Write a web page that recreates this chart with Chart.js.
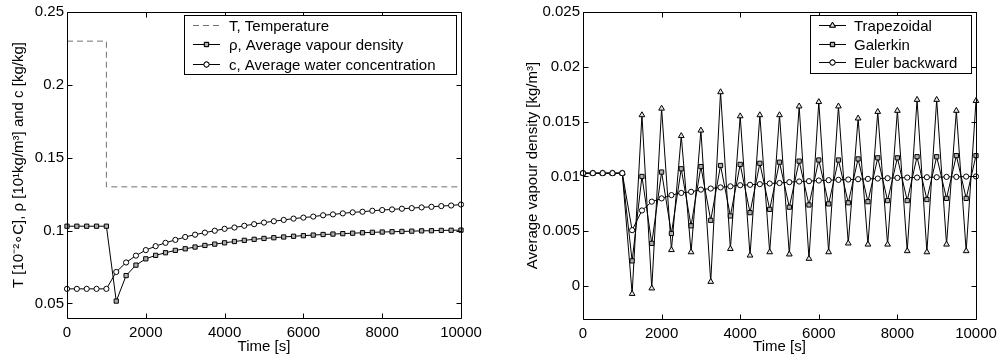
<!DOCTYPE html>
<html>
<head>
<meta charset="utf-8">
<script src="https://cdn.jsdelivr.net/npm/chart.js@4.4.1/dist/chart.umd.min.js"></script>
<style>
  html, body { margin: 0; padding: 0; background: #fff; }
  body { width: 1006px; height: 360px; position: relative; overflow: hidden; }
  .panel { position: absolute; top: 0; }
  #left-panel { left: 0; }
  #right-panel { left: 500px; }
</style>
</head>
<body>
<div class="panel" id="left-panel"><canvas id="left-chart" width="490" height="360"></canvas></div>
<div class="panel" id="right-panel"><canvas id="right-chart" width="506" height="360"></canvas></div>
<script>
// Sample times shared by every series [s]
const times = [0, 250, 500, 750, 1000, 1250, 1500, 1750, 2000, 2250, 2500, 2750, 3000, 3250,
  3500, 3750, 4000, 4250, 4500, 4750, 5000, 5250, 5500, 5750, 6000, 6250, 6500, 6750, 7000,
  7250, 7500, 7750, 8000, 8250, 8500, 8750, 9000, 9250, 9500, 9750, 10000];

// Left panel
const tempTimes = [0, 1000, 1000, 10000];
const tempValues = [0.23, 0.23, 0.13, 0.13];
const rhoAvg = [0.103, 0.103, 0.103, 0.103, 0.103, 0.0516, 0.0691, 0.0763, 0.0806, 0.0830,
  0.0848, 0.0864, 0.0875, 0.0887, 0.0898, 0.0907, 0.0916, 0.0925, 0.0933, 0.0940, 0.0946,
  0.0951, 0.0956, 0.0961, 0.0965, 0.0969, 0.0973, 0.0976, 0.0979, 0.0982, 0.0985, 0.0988,
  0.0990, 0.0992, 0.0994, 0.0996, 0.0998, 0.0999, 0.1001, 0.1002, 0.1003];
const cAvg = [0.06, 0.06, 0.06, 0.06, 0.06, 0.0716, 0.0781, 0.0828, 0.0866, 0.0893, 0.0916,
  0.0936, 0.0956, 0.0972, 0.0986, 0.0999, 0.1012, 0.1021, 0.1033, 0.1044, 0.1055, 0.1064,
  0.1073, 0.1082, 0.1089, 0.1096, 0.1105, 0.1111, 0.1118, 0.1125, 0.1129, 0.1136, 0.1141,
  0.1145, 0.1150, 0.1154, 0.1159, 0.1163, 0.1168, 0.1172, 0.1179];
const leftLabels = ['T, Temperature', 'ρ, Average vapour density', 'c, Average water concentration'];
const leftYTicks = [0.05, 0.1, 0.15, 0.2, 0.25];

// Right panel
const trapezoidal = [0.0103, 0.0103, 0.0103, 0.0103, 0.0103, -0.0007, 0.0156, -0.0002, 0.0162,
  0.0033, 0.0137, 0.0031, 0.0142, 0.0004, 0.0177, 0.0034, 0.0155, 0.0028, 0.0156, 0.0031,
  0.0156, 0.0029, 0.0164, 0.0025, 0.0168, 0.0031, 0.0164, 0.0039, 0.0153, 0.0038, 0.0159,
  0.0038, 0.0160, 0.0032, 0.0170, 0.0031, 0.0170, 0.0038, 0.0160, 0.0032, 0.0169];
const galerkin = [0.0103, 0.0103, 0.0103, 0.0103, 0.0103, 0.0023, 0.0100, 0.0039, 0.0104,
  0.0048, 0.0107, 0.0055, 0.0109, 0.0060, 0.0110, 0.0064, 0.0111, 0.0067, 0.0112, 0.0070,
  0.0113, 0.0072, 0.0114, 0.0074, 0.0115, 0.0075, 0.0115, 0.0076, 0.0116, 0.0077, 0.0117,
  0.0078, 0.0117, 0.0078, 0.0118, 0.0079, 0.0118, 0.0080, 0.0119, 0.0080, 0.0119];
const eulerBackward = [0.0103, 0.0103, 0.0103, 0.0103, 0.0103, 0.0051, 0.0069, 0.0077, 0.0080,
  0.0083, 0.0085, 0.0086, 0.0088, 0.0089, 0.0090, 0.0091, 0.0092, 0.00924, 0.0093, 0.00936,
  0.0094, 0.00948, 0.00954, 0.00957, 0.00963, 0.00966, 0.00969, 0.00972, 0.00975, 0.00978,
  0.00981, 0.00984, 0.00987, 0.0099, 0.0099, 0.00993, 0.00993, 0.00996, 0.00996, 0.00999, 0.0100];
const rightLabels = ['Trapezoidal', 'Galerkin', 'Euler backward'];
const rightYTicks = [0, 0.005, 0.01, 0.015, 0.02, 0.025];

const xTicks = [0, 2000, 4000, 6000, 8000, 10000];

const FONT = 'Arial, "Liberation Sans", Helvetica, sans-serif';

function toPoints(xs, ys) {
  return xs.map((x, i) => ({ x: x, y: ys[i] }));
}

function fmt(v) {
  return String(+Number(v).toFixed(4));
}

// MATLAB style box with inward ticks on all four sides
const frameTicks = {
  id: 'frameTicks',
  afterDatasetsDraw(chart) {
    const { ctx, chartArea: a, scales: { x, y } } = chart;
    const len = 5;
    const L = Math.round(a.left) + 0.5, R = Math.round(a.right) + 0.5;
    const T = Math.round(a.top) + 0.5, B = Math.round(a.bottom) + 0.5;
    ctx.save();
    ctx.strokeStyle = '#000';
    ctx.lineWidth = 1;
    ctx.beginPath();
    x.ticks.forEach(t => {
      const px = Math.round(x.getPixelForValue(t.value)) + 0.5;
      ctx.moveTo(px, B); ctx.lineTo(px, B - len);
      ctx.moveTo(px, T); ctx.lineTo(px, T + len);
    });
    y.ticks.forEach(t => {
      const py = Math.round(y.getPixelForValue(t.value)) + 0.5;
      ctx.moveTo(L, py); ctx.lineTo(L + len, py);
      ctx.moveTo(R, py); ctx.lineTo(R - len, py);
    });
    ctx.rect(L, T, R - L, B - T);
    ctx.stroke();
    ctx.restore();
  }
};

// Legend box drawn inside the axes
const boxLegend = {
  id: 'boxLegend',
  afterDraw(chart, args, opts) {
    const { ctx } = chart;
    ctx.save();
    ctx.fillStyle = '#fff';
    ctx.fillRect(opts.x, opts.y, opts.w, opts.h);
    ctx.strokeStyle = '#000';
    ctx.lineWidth = 1;
    ctx.strokeRect(opts.x + 0.5, opts.y + 0.5, opts.w, opts.h);
    ctx.font = '15px ' + FONT;
    ctx.textBaseline = 'middle';
    chart.data.datasets.forEach((ds, i) => {
      const cy = Math.round(opts.y + opts.first + i * opts.step) + 0.5;
      const x0 = opts.x + opts.lineStart, x1 = x0 + opts.lineLen;
      ctx.strokeStyle = ds.borderColor;
      ctx.setLineDash(ds.borderDash || []);
      ctx.beginPath();
      ctx.moveTo(x0, cy);
      ctx.lineTo(x1, cy);
      ctx.stroke();
      ctx.setLineDash([]);
      if (ds.pointRadius > 0) {
        ctx.fillStyle = ds.pointBackgroundColor;
        ctx.strokeStyle = '#000';
        Chart.helpers.drawPoint(ctx, {
          pointStyle: ds.pointStyle, radius: ds.pointRadius, borderWidth: 1, rotation: 0
        }, (x0 + x1) / 2, cy);
        ctx.fill();
        ctx.stroke();
      }
      ctx.fillStyle = '#000';
      ctx.fillText(ds.label, opts.x + opts.textStart, cy + 1);
    });
    ctx.restore();
  }
};

function lineSet(label, xs, ys, style, fill, radius, extra) {
  return Object.assign({
    label: label,
    data: toPoints(xs, ys),
    showLine: true,
    borderColor: '#000',
    borderWidth: 1,
    pointStyle: style,
    pointRadius: radius,
    pointBackgroundColor: fill,
    pointBorderColor: '#000',
    pointBorderWidth: 1,
    tension: 0,
    clip: false
  }, extra || {});
}

function chartConfig(datasets, cfg) {
  return {
    type: 'scatter',
    data: { datasets: datasets },
    plugins: [frameTicks, boxLegend],
    options: {
      responsive: false,
      animation: false,
      events: [],
      layout: { padding: { left: 0, right: cfg.padRight, top: 10, bottom: 0 } },
      plugins: {
        legend: { display: false },
        tooltip: { enabled: false },
        boxLegend: cfg.legend
      },
      scales: {
        x: {
          type: 'linear',
          min: 0,
          max: 10000,
          afterBuildTicks: s => { s.ticks = xTicks.map(v => ({ value: v })); },
          afterFit: s => { s.height = cfg.xHeight; },
          grid: { display: false, drawTicks: false },
          border: { display: false },
          ticks: { color: '#000', padding: 6, font: { size: 15, family: FONT }, callback: v => String(v) },
          title: { display: true, text: 'Time [s]', color: '#000', padding: { top: 0, bottom: 4 },
            font: { size: 15, family: FONT } }
        },
        y: {
          type: 'linear',
          min: cfg.yMin,
          max: cfg.yMax,
          afterBuildTicks: s => { s.ticks = cfg.yTicks.map(v => ({ value: v })); },
          afterFit: s => { s.width = cfg.yWidth; },
          grid: { display: false, drawTicks: false },
          border: { display: false },
          ticks: { color: '#000', padding: 3, font: { size: 15, family: FONT }, callback: v => fmt(v) },
          title: { display: true, text: cfg.yTitle, color: '#000', padding: { top: cfg.yTitlePad, bottom: 0 },
            font: { size: 15, family: FONT } }
        }
      }
    }
  };
}

new Chart(document.getElementById('left-chart'), chartConfig([
  lineSet(leftLabels[0], tempTimes, tempValues, 'circle', '#fff', 0,
    { borderColor: '#707070', borderDash: [6, 4] }),
  lineSet(leftLabels[1], times, rhoAvg, 'rect', '#b0b0b0', 3),
  lineSet(leftLabels[2], times, cAvg, 'circle', '#fff', 2.6)
], {
  yMin: 0.04, yMax: 0.25, yTicks: leftYTicks, yWidth: 67, xHeight: 42, padRight: 29,
  yTitle: 'T [10⁻²∘C], ρ [10¹kg/m³] and c [kg/kg]', yTitlePad: 10,
  legend: { x: 184, y: 15, w: 272, h: 59, first: 10, step: 19.3, lineStart: 9, lineLen: 27, textStart: 45 }
}));

new Chart(document.getElementById('right-chart'), chartConfig([
  lineSet(rightLabels[0], times, trapezoidal, 'triangle', '#e4e4e4', 3.3, { order: 3 }),
  lineSet(rightLabels[1], times, galerkin, 'rect', '#b0b0b0', 3, { order: 2 }),
  lineSet(rightLabels[2], times, eulerBackward, 'circle', '#fff', 2.6, { order: 1 })
], {
  yMin: -0.003, yMax: 0.025, yTicks: rightYTicks, yWidth: 83, xHeight: 41, padRight: 30,
  yTitle: 'Average vapour density [kg/m³]', yTitlePad: 24,
  legend: { x: 310, y: 15, w: 161, h: 58, first: 10, step: 18.7, lineStart: 9, lineLen: 27, textStart: 44 }
}));
</script>
</body>
</html>
